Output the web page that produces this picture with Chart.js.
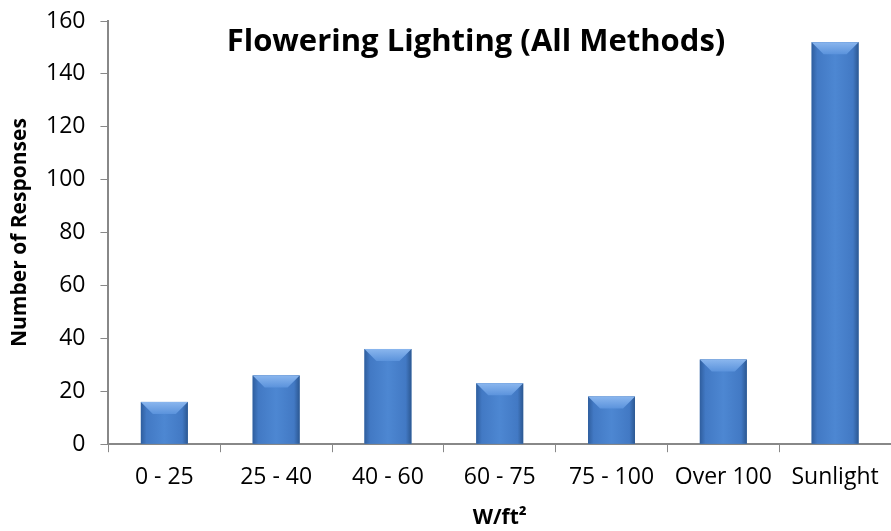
<!DOCTYPE html>
<html>
<head>
<meta charset="utf-8">
<script src="https://cdn.jsdelivr.net/npm/chart.js@4"></script>
<style>
  html, body { margin: 0; padding: 0; background: #fff; }
  #wrap { width: 891px; height: 531px; position: relative; }
</style>
</head>
<body>
<div id="wrap"><canvas id="c" width="891" height="531"></canvas></div>
<script>
const categories = ['0 - 25', '25 - 40', '40 - 60', '60 - 75', '75 - 100', 'Over 100', 'Sunlight'];
const responses = [16, 26, 36, 23, 18, 32, 152];
const yTicks = [0, 20, 40, 60, 80, 100, 120, 140, 160];

const FONT = '"Open Sans", "Noto Sans", sans-serif';
const AXIS_GREY = '#888888';

// Shades each bar with a sideways gradient and a lighter bevel on its top edge
const bevelBars = {
  id: 'bevelBars',
  afterDatasetsDraw(chart) {
    const ctx = chart.ctx;
    chart.getDatasetMeta(0).data.forEach(bar => {
      const left = bar.x - bar.width / 2, right = bar.x + bar.width / 2;
      const top = bar.y, bottom = bar.base;
      const w = right - left;
      const g = ctx.createLinearGradient(left, 0, right, 0);
      g.addColorStop(0, '#2f5e9e');
      g.addColorStop(0.12, '#4279c4');
      g.addColorStop(0.5, '#4d87d2');
      g.addColorStop(0.88, '#4279c4');
      g.addColorStop(1, '#2c5892');
      ctx.save();
      ctx.fillStyle = g;
      ctx.fillRect(left, top, w, bottom - top);
      const bev = Math.min(12, (bottom - top) / 2);
      const tg = ctx.createLinearGradient(0, top, 0, top + bev);
      tg.addColorStop(0, '#8ab6ee');
      tg.addColorStop(1, '#5b93dc');
      ctx.fillStyle = tg;
      ctx.beginPath();
      ctx.moveTo(left, top);
      ctx.lineTo(right, top);
      ctx.lineTo(right - bev, top + bev);
      ctx.lineTo(left + bev, top + bev);
      ctx.closePath();
      ctx.fill();
      ctx.restore();
    });
  }
};

// Title drawn inside the plot area, as in the original layout
const innerTitle = {
  id: 'innerTitle',
  afterDraw(chart) {
    const ctx = chart.ctx;
    const area = chart.chartArea;
    ctx.save();
    ctx.font = 'bold 31px ' + FONT;
    ctx.fillStyle = '#000';
    ctx.textAlign = 'center';
    ctx.textBaseline = 'middle';
    ctx.fillText('Flowering Lighting (All Methods)', 476, area.top + 21);
    ctx.restore();
  }
};

new Chart(document.getElementById('c'), {
  type: 'bar',
  data: {
    labels: categories,
    datasets: [{
      data: responses,
      backgroundColor: '#4a7ebb',
      borderWidth: 0,
      barPercentage: 0.42,
      categoryPercentage: 1.0
    }]
  },
  options: {
    responsive: false,
    animation: false,
    layout: { padding: { top: 0, right: 0, left: 10, bottom: 0 } },
    plugins: {
      legend: { display: false },
      tooltip: { enabled: false }
    },
    scales: {
      x: {
        grid: {
          offset: true,
          drawOnChartArea: false,
          drawTicks: true,
          tickLength: 8,
          color: AXIS_GREY,
          lineWidth: 1
        },
        border: { display: true, color: AXIS_GREY, width: 2 },
        ticks: {
          color: '#000',
          font: { family: FONT, size: 23 },
          padding: 11,
          maxRotation: 0
        },
        title: {
          display: true,
          text: 'W/ft²',
          color: '#000',
          font: { family: FONT, size: 21, weight: 'bold' },
          padding: { top: 4, bottom: 0 }
        }
      },
      y: {
        min: 0,
        max: 160,
        afterBuildTicks(axis) { axis.ticks = yTicks.map(v => ({ value: v })); },
        // keep the top of the value axis close to the canvas edge
        afterFit(scale) { scale.paddingTop = 21; },
        grid: {
          drawOnChartArea: false,
          drawTicks: true,
          tickLength: 8,
          color: AXIS_GREY
        },
        border: { display: true, color: AXIS_GREY, width: 2 },
        ticks: {
          color: '#000',
          font: { family: FONT, size: 23 },
          padding: 15
        },
        title: {
          display: true,
          text: 'Number of Responses',
          color: '#000',
          font: { family: FONT, size: 21, weight: 'bold', lineHeight: 1 },
          padding: { top: 0, bottom: 0 }
        }
      }
    }
  },
  plugins: [bevelBars, innerTitle]
});
</script>
</body>
</html>
